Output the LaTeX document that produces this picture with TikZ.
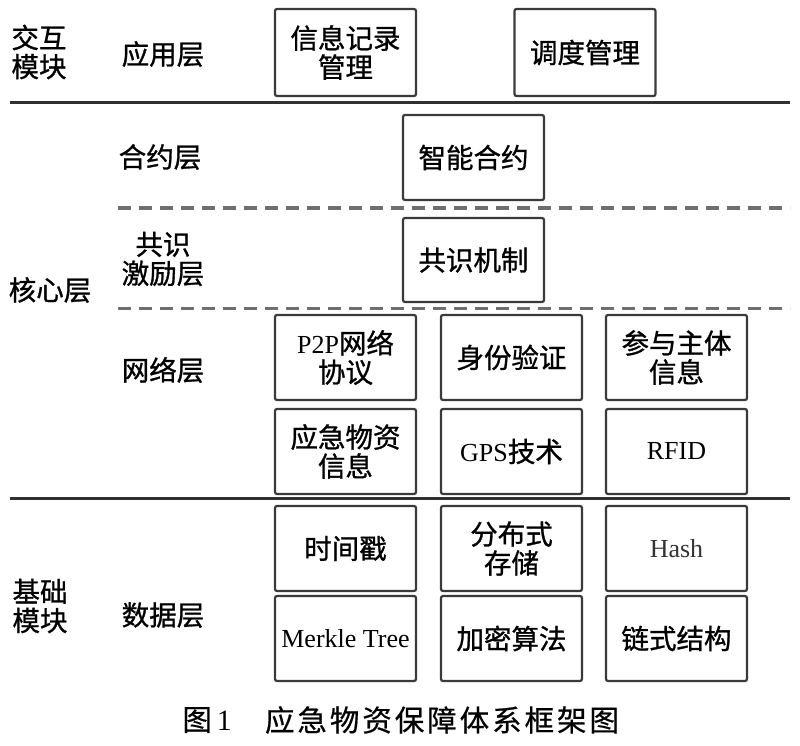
\documentclass[tikz,border=0pt]{standalone}
\usepackage{fontspec}
\setmainfont[FakeBold=1]{Noto Sans CJK SC}
\newfontfamily\latfam{Liberation Serif}
\newcommand\latf{\latfam\fontsize{26}{29}\selectfont}
\newfontfamily\capf[LetterSpace=10,FakeBold=0.6]{Noto Sans CJK SC}
\newfontfamily\caplat{Liberation Serif}
\definecolor{boxgray}{HTML}{3A3A3A}
\definecolor{linegray}{HTML}{303030}
\definecolor{dashgray}{HTML}{6E6E6E}
\begin{document}
\begin{tikzpicture}[x=1pt,y=-1pt,
  blk/.style={draw=boxgray, line width=2.2pt, rounded corners=2pt,
    minimum width=141pt, minimum height=85pt, inner sep=0pt, align=center,
    font=\fontsize{27.5}{29}\selectfont},
  lab/.style={align=center, inner sep=0pt, font=\fontsize{27.5}{29}\selectfont},
  solidsep/.style={draw=linegray, line width=3pt},
  dashsep/.style={draw=dashgray, line width=3pt, dash pattern=on 13pt off 8pt}]
\useasboundingbox (0,0) rectangle (800,746);

% separators
\coordinate (s1a) at (10,103);  \coordinate (s1b) at (790,103);
\coordinate (d1a) at (118,208); \coordinate (d1b) at (790,208);
\coordinate (d2a) at (118,308); \coordinate (d2b) at (790,308);
\coordinate (s2a) at (10,498);  \coordinate (s2b) at (790,498);
\draw[solidsep] (s1a) -- (s1b);
\draw[dashsep] (d1a) -- (d1b);
\draw[dashsep] (d2a) -- (d2b);
\draw[solidsep] (s2a) -- (s2b);

% left labels
\node[lab] (jh) at (39,52) {交互\\模块};
\node[lab] (hx) at (50,290) {核心层};
\node[lab] (jc) at (40,606) {基础\\模块};
\node[lab] (yy) at (163,54) {应用层};
\node[lab] (hy) at (160,157) {合约层};
\node[lab] (gs) at (163,259) {共识\\激励层};
\node[lab] (wl) at (163,370) {网络层};
\node[lab] (sj) at (163,615) {数据层};

% boxes
\node[blk, minimum height=87pt] (app1) at (345.5,52.5) {信息记录\\管理};
\node[blk, minimum height=87pt] (app2) at (585,52.5) {调度管理};
\node[blk] (hyue) at (473.5,157.5) {智能合约};
\node[blk, minimum height=84pt] (gsjz) at (473.5,260) {共识机制};

\node[blk] (n11) at (345.5,357.5) {{\latf P2P}网络\\协议};
\node[blk] (n12) at (511.5,357.5) {身份验证};
\node[blk] (n13) at (676.5,357.5) {参与主体\\信息};
\node[blk] (n21) at (345.5,451.5) {应急物资\\信息};
\node[blk] (n22) at (511.5,451.5) {{\latf GPS}技术};
\node[blk] (n23) at (676.5,451.5) {\latf RFID};

\node[blk] (d11) at (345.5,548.5) {时间戳};
\node[blk] (d12) at (511.5,548.5) {分布式\\存储};
\node[blk] (d13) at (676.5,548.5) {\latf\color{black!80}Hash};
\node[blk] (d21) at (345.5,638.5) {\latf Merkle Tree};
\node[blk] (d22) at (511.5,638.5) {加密算法};
\node[blk] (d23) at (676.5,638.5) {链式结构};

% caption
\node[inner sep=0pt, font=\fontsize{29.5}{30}\selectfont] (cap1) at (207,720) {\capf 图\,{\caplat 1}};
\node[inner sep=0pt, font=\fontsize{29.5}{30}\selectfont] (cap2) at (442,720) {\capf 应急物资保障体系框架图};
\end{tikzpicture}
\end{document}
